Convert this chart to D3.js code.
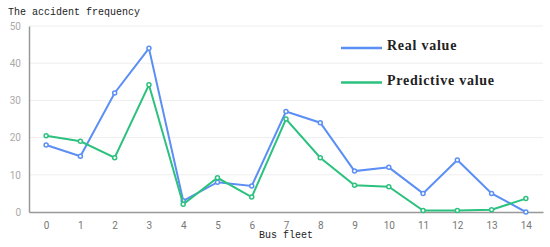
<!DOCTYPE html>
<html>
<head>
<meta charset="utf-8">
<script src="https://cdn.jsdelivr.net/npm/d3@7"></script>
<style>
  body { margin: 0; background: #fff; }
  svg { display: block; }
</style>
</head>
<body>
<svg id="chart" width="550" height="247"></svg>
<script>
const fleets = [0, 1, 2, 3, 4, 5, 6, 7, 8, 9, 10, 11, 12, 13, 14];
const realValues = [18, 15, 32, 44, 3, 8, 7, 27, 24, 11, 12, 5, 14, 5, 0];
const predictiveValues = [20.5, 19, 14.6, 34.2, 2.1, 9.2, 4, 25, 14.6, 7.2, 6.8, 0.4, 0.4, 0.6, 3.6];
const yTicks = [0, 10, 20, 30, 40, 50];
const seriesNames = ['Real value', 'Predictive value'];
const colours = ['#5b8ff5', '#2cc17f'];

const margin = { top: 26, right: 7, bottom: 35, left: 29 };
const width = 550 - margin.left - margin.right;
const height = 247 - margin.top - margin.bottom;

const svg = d3.select('#chart');

const x = d3.scalePoint().domain(fleets).range([0, width]).padding(0.5);
const y = d3.scaleLinear().domain([0, 50]).range([height, 0]);

const g = svg.append('g')
  .attr('transform', 'translate(' + margin.left + ',' + margin.top + ')');

// grid
g.append('g')
  .selectAll('line')
  .data(yTicks.filter(d => d > 0))
  .enter()
  .append('line')
  .attr('x1', 0)
  .attr('x2', width)
  .attr('y1', d => y(d))
  .attr('y2', d => y(d))
  .style('stroke', '#eeeeee')
  .style('stroke-width', 1);

// y axis
const yAxis = g.append('g')
  .call(d3.axisLeft(y).tickValues(yTicks).tickSize(0).tickPadding(8));
yAxis.select('.domain').style('stroke', '#999').style('stroke-width', 1.5);
yAxis.selectAll('text')
  .style('fill', '#aaa')
  .style('font-family', 'Roboto, sans-serif')
  .style('font-size', '10px');

// x axis
const xAxis = g.append('g')
  .attr('transform', 'translate(0,' + height + ')')
  .call(d3.axisBottom(x).tickSize(0).tickPadding(10));
xAxis.select('.domain').style('stroke', '#999').style('stroke-width', 1.5);
xAxis.selectAll('text')
  .style('fill', '#777')
  .style('font-family', 'Roboto, sans-serif')
  .style('font-size', '10px');

// title and axis name
svg.append('text')
  .attr('x', 8)
  .attr('y', 15)
  .style('font-family', '"Liberation Mono", monospace')
  .style('font-size', '10px')
  .style('fill', '#222')
  .text('The accident frequency');

svg.append('text')
  .attr('x', margin.left + width / 2)
  .attr('y', 238)
  .attr('text-anchor', 'middle')
  .style('font-family', '"Liberation Mono", monospace')
  .style('font-size', '10px')
  .style('fill', '#222')
  .text('Bus fleet');

// lines
const line = d3.line()
  .x((d, i) => x(fleets[i]))
  .y(d => y(d));

[realValues, predictiveValues].forEach((values, s) => {
  g.append('path')
    .datum(values)
    .attr('d', line)
    .style('fill', 'none')
    .style('stroke', colours[s])
    .style('stroke-width', 2);

  g.selectAll('.dot' + s)
    .data(values)
    .enter()
    .append('circle')
    .attr('cx', (d, i) => x(fleets[i]))
    .attr('cy', d => y(d))
    .attr('r', 2)
    .style('fill', '#fff')
    .style('stroke', colours[s])
    .style('stroke-width', 1.5);
});

// legend
const legend = svg.append('g');
seriesNames.forEach((name, i) => {
  const ly = 48 + i * 34.5;
  legend.append('line')
    .attr('x1', 341)
    .attr('x2', 382)
    .attr('y1', ly)
    .attr('y2', ly)
    .style('stroke', colours[i])
    .style('stroke-width', 2.5);
  legend.append('text')
    .attr('x', 387)
    .attr('y', ly + 2)
    .style('font-family', '"Liberation Serif", serif')
    .style('font-size', '14px')
    .style('font-weight', 'bold')
    .style('letter-spacing', '0.75px')
    .style('fill', '#222')
    .text(name);
});
</script>
</body>
</html>
